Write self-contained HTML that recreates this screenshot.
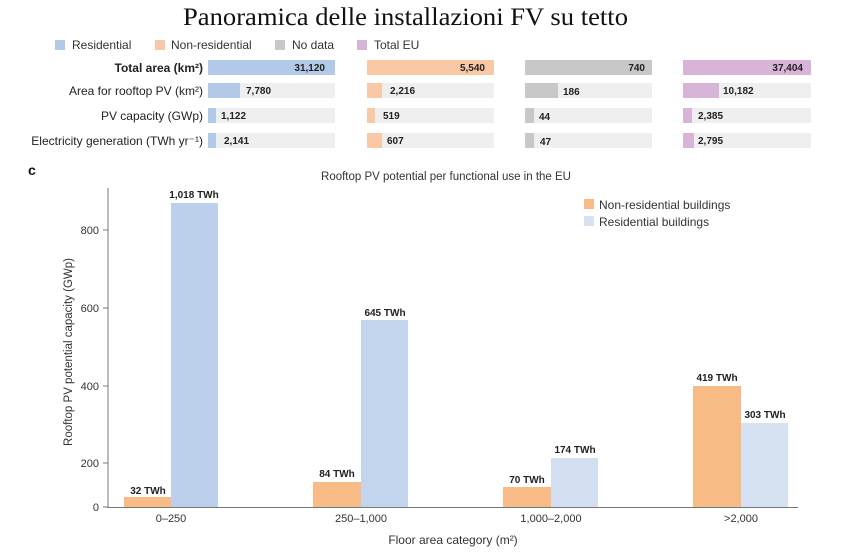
<!DOCTYPE html>
<html><head><meta charset="utf-8"><style>
html,body{margin:0;padding:0;background:#fff;}
svg{display:block;}
text{font-family:"Liberation Sans",sans-serif;}
.b{font-weight:bold;font-size:10px;fill:#222;}
.l{font-size:12px;fill:#333;}
</style></head><body>
<svg width="843" height="555" viewBox="0 0 843 555">
<text x="183" y="25" font-size="25" fill="#111" textLength="445" lengthAdjust="spacingAndGlyphs" style="font-family:'Liberation Serif',serif">Panoramica delle installazioni FV su tetto</text>
<!-- legend top -->
<rect x="55" y="40" width="10" height="10" fill="#b3c9e8"/><text x="72" y="49" class="l">Residential</text>
<rect x="155" y="40" width="10" height="10" fill="#f9c9a6"/><text x="171" y="49" class="l">Non-residential</text>
<rect x="275" y="40" width="10" height="10" fill="#c8c8c8"/><text x="292" y="49" class="l">No data</text>
<rect x="357" y="40" width="10" height="10" fill="#d8b4d8"/><text x="374" y="49" class="l">Total EU</text>
<!-- row labels -->
<g font-size="12" fill="#222" text-anchor="end">
<text x="203" y="72" font-weight="bold">Total area (km²)</text>
<text x="203" y="95">Area for rooftop PV (km²)</text>
<text x="203" y="120">PV capacity (GWp)</text>
<text x="203" y="145">Electricity generation (TWh yr⁻¹)</text>
</g>
<!-- background bars -->
<g fill="#efefef">
<rect x="208" y="83" width="127" height="15"/><rect x="208" y="108" width="127" height="15"/><rect x="208" y="133" width="127" height="15"/>
<rect x="367" y="83" width="127" height="15"/><rect x="367" y="108" width="127" height="15"/><rect x="367" y="133" width="127" height="15"/>
<rect x="525" y="83" width="127" height="15"/><rect x="525" y="108" width="127" height="15"/><rect x="525" y="133" width="127" height="15"/>
<rect x="683" y="83" width="128" height="15"/><rect x="683" y="108" width="128" height="15"/><rect x="683" y="133" width="128" height="15"/>
</g>
<rect x="208" y="60" width="127" height="15" fill="#b3c9e8"/><text x="325" y="71" class="b" text-anchor="end">31,120</text>
<rect x="208" y="83" width="32" height="15" fill="#b3c9e8"/><text x="246" y="94" class="b">7,780</text>
<rect x="208" y="108" width="8" height="15" fill="#b3c9e8"/><text x="221" y="119" class="b">1,122</text>
<rect x="208" y="133" width="8" height="15" fill="#b3c9e8"/><text x="224" y="144" class="b">2,141</text>
<rect x="367" y="60" width="127" height="15" fill="#f9c9a6"/><text x="485" y="71" class="b" text-anchor="end">5,540</text>
<rect x="367" y="83" width="15" height="15" fill="#f9c9a6"/><text x="390" y="94" class="b">2,216</text>
<rect x="367" y="108" width="8" height="15" fill="#f9c9a6"/><text x="383" y="119" class="b">519</text>
<rect x="367" y="133" width="15" height="15" fill="#f9c9a6"/><text x="387" y="144" class="b">607</text>
<rect x="525" y="60" width="127" height="15" fill="#c8c8c8"/><text x="645" y="71" class="b" text-anchor="end">740</text>
<rect x="525" y="83" width="33" height="15" fill="#c8c8c8"/><text x="563" y="95" class="b">186</text>
<rect x="525" y="108" width="9" height="15" fill="#c8c8c8"/><text x="539" y="120" class="b">44</text>
<rect x="525" y="133" width="9" height="15" fill="#c8c8c8"/><text x="540" y="145" class="b">47</text>
<rect x="683" y="60" width="128" height="15" fill="#d8b4d8"/><text x="803" y="71" class="b" text-anchor="end">37,404</text>
<rect x="683" y="83" width="36" height="15" fill="#d8b4d8"/><text x="723" y="94" class="b">10,182</text>
<rect x="683" y="108" width="9" height="15" fill="#d8b4d8"/><text x="698" y="119" class="b">2,385</text>
<rect x="683" y="133" width="11" height="15" fill="#d8b4d8"/><text x="698" y="144" class="b">2,795</text>
<!-- chart c -->
<text x="28" y="175" font-size="14" font-weight="bold" fill="#111">c</text>
<text x="446" y="180" font-size="11.5" fill="#333" text-anchor="middle">Rooftop PV potential per functional use in the EU</text>
<rect x="584" y="199" width="10" height="10" fill="#f9bb86"/><text x="599" y="209" class="l">Non-residential buildings</text>
<rect x="584" y="216" width="10" height="10" fill="#d8e3f2"/><text x="599" y="226" class="l">Residential buildings</text>
<!-- bars -->
<rect x="124" y="497" width="47" height="10" fill="#f9bb86"/>
<rect x="171" y="203" width="47" height="304" fill="#bccfeb"/>
<rect x="313" y="482" width="48" height="25" fill="#f9bb86"/>
<rect x="361" y="320" width="47" height="187" fill="#c3d4ed"/>
<rect x="503" y="487" width="48" height="20" fill="#f9bb86"/>
<rect x="551" y="458" width="47" height="49" fill="#d3def0"/>
<rect x="693" y="386" width="48" height="121" fill="#f9bb86"/>
<rect x="741" y="423" width="47" height="84" fill="#d6e1f1"/>
<g class="b" text-anchor="middle">
<text x="148" y="494" class="b">32 TWh</text>
<text x="194" y="198" class="b">1,018 TWh</text>
<text x="337" y="477" class="b">84 TWh</text>
<text x="385" y="316" class="b">645 TWh</text>
<text x="527" y="483" class="b">70 TWh</text>
<text x="575" y="453" class="b">174 TWh</text>
<text x="717" y="381" class="b">419 TWh</text>
<text x="765" y="418" class="b">303 TWh</text>
</g>
<!-- axes -->
<line x1="108" y1="188" x2="108" y2="508" stroke="#777" stroke-width="1"/>
<line x1="108" y1="507.5" x2="798" y2="507.5" stroke="#777" stroke-width="1"/>
<g stroke="#777"><line x1="103" y1="507" x2="108" y2="507"/><line x1="103" y1="463" x2="108" y2="463"/><line x1="103" y1="386" x2="108" y2="386"/><line x1="103" y1="308" x2="108" y2="308"/><line x1="103" y1="230" x2="108" y2="230"/></g>
<g font-size="11" fill="#333" text-anchor="end">
<text x="99" y="511">0</text><text x="99" y="467">200</text><text x="99" y="390">400</text><text x="99" y="312">600</text><text x="99" y="234">800</text>
</g>
<g font-size="11" fill="#333" text-anchor="middle">
<text x="171" y="522">0–250</text><text x="361" y="522">250–1,000</text><text x="551" y="522">1,000–2,000</text><text x="741" y="522">&gt;2,000</text>
</g>
<text x="453" y="544" font-size="12" fill="#333" text-anchor="middle">Floor area category (m²)</text>
<text transform="translate(72,352) rotate(-90)" font-size="11.5" fill="#333" text-anchor="middle">Rooftop PV potential capacity (GWp)</text>
</svg>
</body></html>
